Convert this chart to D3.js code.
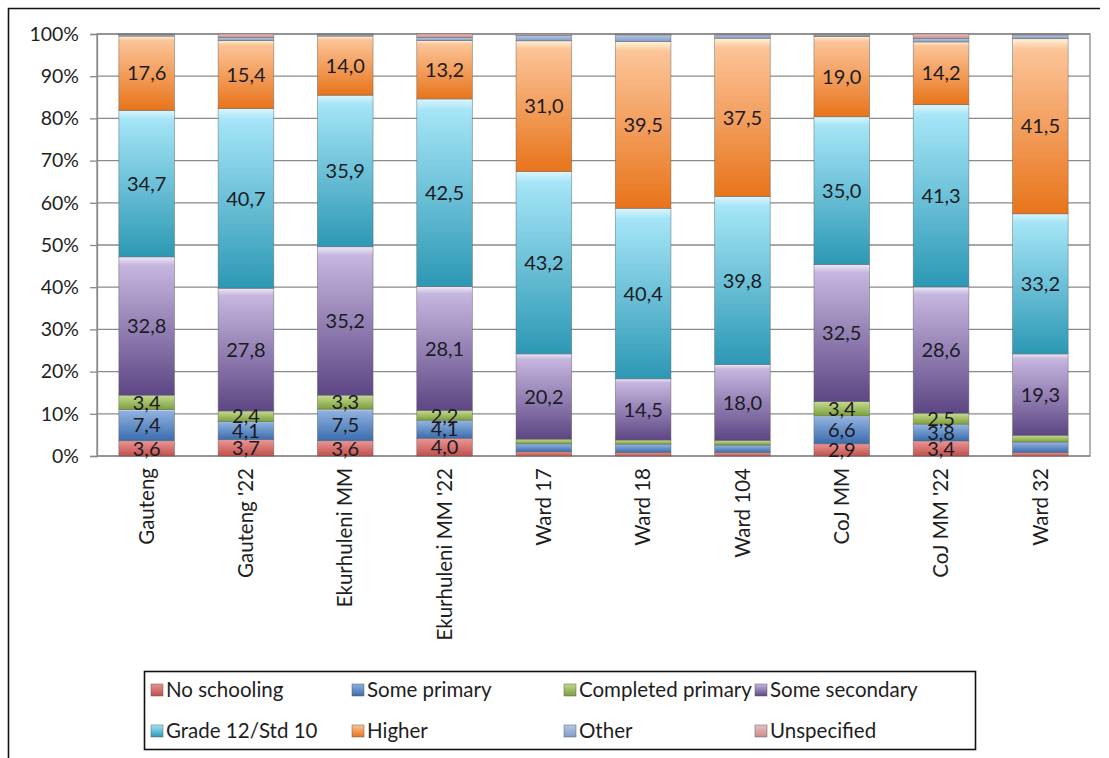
<!DOCTYPE html>
<html>
<head>
<meta charset="utf-8">
<script src="https://cdn.jsdelivr.net/npm/d3@7"></script>
<style>
  body { margin: 0; background: #fff; }
  svg { display: block; }
  text { font-family: Lato, "Liberation Sans", sans-serif; }
</style>
</head>
<body>
<svg id="chart" width="1109" height="758"></svg>
<script>
// Highest level of education, share of persons aged 20+ per area
const categories = ["Gauteng", "Gauteng '22", "Ekurhuleni MM", "Ekurhuleni MM '22",
  "Ward 17", "Ward 18", "Ward 104", "CoJ MM", "CoJ MM '22", "Ward 32"];

const seriesNames = ["No schooling", "Some primary", "Completed primary", "Some secondary",
  "Grade 12/Std 10", "Higher", "Other", "Unspecified"];

const noSchooling      = [3.6, 3.7, 3.6, 4.0, 1.0, 0.8, 0.8, 2.9, 3.4, 0.8];
const somePrimary      = [7.4, 4.1, 7.5, 4.1, 1.9, 2.0, 1.8, 6.6, 3.8, 2.5];
const completedPrimary = [3.4, 2.4, 3.3, 2.2, 1.1, 1.0, 1.1, 3.4, 2.5, 1.6];
const someSecondary    = [32.8, 27.8, 35.2, 28.1, 20.2, 14.5, 18.0, 32.5, 28.6, 19.3];
const grade12          = [34.7, 40.7, 35.9, 42.5, 43.2, 40.4, 39.8, 35.0, 41.3, 33.2];
const higher           = [17.6, 15.4, 14.0, 13.2, 31.0, 39.5, 37.5, 19.0, 14.2, 41.5];
const other            = [0.4, 0.7, 0.4, 0.7, 1.3, 1.6, 0.8, 0.4, 0.8, 0.9];
const unspecified      = [0.1, 0.8, 0.1, 0.8, 0.3, 0.2, 0.2, 0.2, 1.0, 0.2];

// Which series carry value labels, and which areas label their three smallest levels
const labelledSeries = [true, true, true, true, true, true, false, false];
const labelSmallLevels = [true, true, true, true, false, false, false, true, true, false];

const yTicks = [0, 0.1, 0.2, 0.3, 0.4, 0.5, 0.6, 0.7, 0.8, 0.9, 1.0];

const seriesValues = [noSchooling, somePrimary, completedPrimary, someSecondary,
  grade12, higher, other, unspecified];

// gradient stops per series: [top highlight, upper tone, base]
const palette = [
  ["#fbe3e2", "#e8928f", "#c0504d"],
  ["#e1ebf7", "#8fb1de", "#3b6cae"],
  ["#f1f7e2", "#c0d78d", "#7d9f3a"],
  ["#efeaf7", "#c6b6df", "#5d4684"],
  ["#dcf5fc", "#a5e5f7", "#2c98b4"],
  ["#fff3d8", "#fcc498", "#e8741b"],
  ["#e6edf7", "#b4c8e3", "#7f9ccb"],
  ["#f8e8e8", "#e8c0bf", "#c98d8c"]
];

const rows = categories.map((c, i) => {
  const r = { category: c };
  seriesNames.forEach((s, k) => { r[s] = seriesValues[k][i]; });
  return r;
});

const svg = d3.select("#chart");
const W = 1109, H = 758;

svg.append("rect").attr("width", W).attr("height", H).attr("fill", "#fff");

// outer chart frame (top and left edges fall inside the page)
svg.append("path")
  .attr("d", "M8.5,758 V8.5 H1100")
  .attr("fill", "none").attr("stroke", "#111").attr("stroke-width", 1.6);

const defs = svg.append("defs");
palette.forEach((p, k) => {
  const g = defs.append("linearGradient").attr("id", "grad" + k)
    .attr("x1", 0).attr("y1", 0).attr("x2", 0).attr("y2", 1);
  g.append("stop").attr("offset", "0").attr("stop-color", p[0]);
  g.append("stop").attr("offset", "0.06").attr("stop-color", p[1]);
  g.append("stop").attr("offset", "1").attr("stop-color", p[2]);
  const lg = defs.append("linearGradient").attr("id", "lgrad" + k)
    .attr("x1", 0).attr("y1", 0).attr("x2", 0).attr("y2", 1);
  lg.append("stop").attr("offset", "0").attr("stop-color", p[1]);
  lg.append("stop").attr("offset", "1").attr("stop-color", p[2]);
});

const plot = { left: 97, right: 1090, top: 34, bottom: 456 };

const x = d3.scaleBand().domain(categories)
  .range([plot.left, plot.right]).paddingInner(0.44).paddingOuter(0.22);
const y = d3.scaleLinear().domain([0, 1]).range([plot.bottom, plot.top]);

// gridlines
svg.append("g").selectAll("line").data(yTicks).join("line")
  .attr("x1", plot.left).attr("x2", plot.right)
  .attr("y1", d => y(d)).attr("y2", d => y(d))
  .attr("stroke", "#8a8a8a").attr("stroke-width", 1.3);

// plot frame
svg.append("rect")
  .attr("x", plot.left).attr("y", plot.top)
  .attr("width", plot.right - plot.left).attr("height", plot.bottom - plot.top)
  .attr("fill", "none").attr("stroke", "#8a8a8a").attr("stroke-width", 1.3);

// y axis
const yAxis = svg.append("g").attr("transform", `translate(${plot.left},0)`)
  .call(d3.axisLeft(y).tickValues(yTicks).tickFormat(d3.format(".0%")).tickSize(7).tickPadding(11));
yAxis.select(".domain").attr("stroke", "#8a8a8a").attr("stroke-width", 1.3);
yAxis.selectAll(".tick line").attr("stroke", "#8a8a8a").attr("stroke-width", 1.3);
yAxis.selectAll(".tick text").attr("font-size", 19.5).attr("fill", "#1e1e1e")
  .attr("font-family", "Lato, 'Liberation Sans', sans-serif");

// x axis labels (rotated)
const xAxis = svg.append("g").attr("transform", `translate(0,${plot.bottom})`)
  .call(d3.axisBottom(x).tickSize(0).tickPadding(0));
xAxis.select(".domain").remove();
xAxis.selectAll(".tick text")
  .attr("font-size", 20.5).attr("fill", "#1e1e1e")
  .attr("font-family", "Lato, 'Liberation Sans', sans-serif")
  .attr("text-anchor", "end")
  .attr("dy", "0.35em")
  .attr("transform", "translate(0,12) rotate(-90)")
  .attr("x", 0).attr("y", 0);

// stacked, normalised bars
const stack = d3.stack().keys(seriesNames).offset(d3.stackOffsetExpand);
const layers = stack(rows);

const bars = svg.append("g");
layers.forEach((layer, k) => {
  bars.append("g").selectAll("rect").data(layer).join("rect")
    .attr("x", d => x(d.data.category))
    .attr("width", x.bandwidth())
    .attr("y", d => y(d[1]))
    .attr("height", d => Math.max(0, y(d[0]) - y(d[1])))
    .attr("fill", `url(#grad${k})`)
    .attr("stroke", "rgba(90,90,90,0.55)")
    .attr("stroke-width", 0.8);
});

// value labels
const labels = svg.append("g");
layers.forEach((layer, k) => {
  if (!labelledSeries[k]) return;
  const shown = layer.filter((d, i) => k >= 3 || labelSmallLevels[i]);
  labels.append("g").selectAll("text").data(shown).join("text")
    .attr("x", d => x(d.data.category) + x.bandwidth() / 2)
    .attr("y", d => (y(d[0]) + y(d[1])) / 2)
    .attr("dy", "0.36em")
    .attr("text-anchor", "middle")
    .attr("font-size", 20)
    .attr("fill", "#1b1b24")
    .text(d => d.data[layer.key].toFixed(1).replace(".", ","));
});

// legend
const legend = svg.append("g");
legend.append("rect")
  .attr("x", 144.5).attr("y", 671.5).attr("width", 831).attr("height", 78)
  .attr("fill", "#fff").attr("stroke", "#111").attr("stroke-width", 1.6);

const colX = [151, 352, 564, 755];
const rowY = [690, 731];
seriesNames.forEach((s, k) => {
  const gx = colX[k % 4], gy = rowY[Math.floor(k / 4)];
  legend.append("rect")
    .attr("x", gx).attr("y", gy - 6).attr("width", 12).attr("height", 12)
    .attr("fill", `url(#lgrad${k})`)
    .attr("stroke", "rgba(90,90,90,0.6)").attr("stroke-width", 0.8);
  legend.append("text")
    .attr("x", gx + 15).attr("y", gy).attr("dy", "0.36em")
    .attr("font-size", 20.5).attr("fill", "#1e1e1e")
    .text(s);
});
</script>
</body>
</html>
